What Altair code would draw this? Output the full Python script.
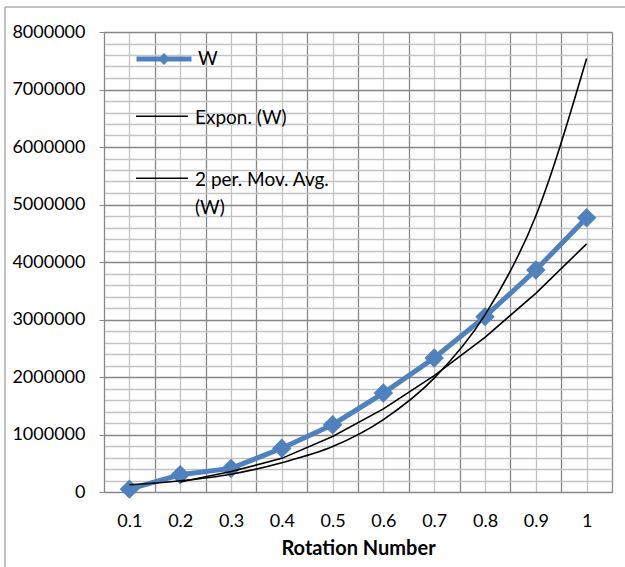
import altair as alt
import pandas as pd

# ---- data ----
categories = [0.1, 0.2, 0.3, 0.4, 0.5, 0.6, 0.7, 0.8, 0.9, 1.0]
w_values = [50000, 300000, 410000, 760000, 1170000, 1720000, 2330000, 3050000, 3860000, 4770000]
expon_values = [125000, 195000, 310000, 510000, 790000, 1260000, 1980000, 3080000, 4800000, 7540000]

x_grid_values = [0.05, 0.1, 0.15, 0.2, 0.25, 0.3, 0.35, 0.4, 0.45, 0.5, 0.55,
                 0.6, 0.65, 0.7, 0.75, 0.8, 0.85, 0.9, 0.95, 1.0, 1.05]
y_grid_values = [i * 200000 for i in range(41)]

W_NAME = "W"
EXP_NAME = "Expon. (W)"
MA_NAME = "2 per. Mov. Avg. (W)"

df = pd.DataFrame({"x": categories, "W": w_values, "E": expon_values})

FONT = "Lato"
BLUE = "#4f81bd"
MAJOR = "#878787"
MINOR = "#c3c3c3"

x_axis = alt.Axis(
    values=x_grid_values,
    title="Rotation Number",
    titleFont=FONT, titleFontSize=20, titleFontWeight="bold", titleColor="black",
    titlePadding=8,
    labelFont=FONT, labelFontSize=18, labelColor="black",
    labelExpr="round(datum.value*20) % 2 == 0 ? format(datum.value, '~g') : ''",
    labelOverlap=False, labelFlush=False, labelPadding=20,
    ticks=False, tickSize=0,
    domainColor=MAJOR,
    grid=True,
    gridColor={"condition": {"test": "round(datum.value*20) % 2 == 0", "value": MINOR}, "value": MAJOR},
    gridWidth=1.3,
)
y_axis = alt.Axis(
    values=y_grid_values,
    title=None,
    labelFont=FONT, labelFontSize=18, labelColor="black",
    labelExpr="datum.value % 1000000 == 0 ? format(datum.value, 'd') : ''",
    labelOverlap=False, labelFlush=False, labelPadding=14,
    tickSize=5, tickColor=MAJOR,
    tickOpacity={"condition": {"test": "datum.value % 1000000 == 0", "value": 1}, "value": 0},
    domainColor=MAJOR,
    grid=True,
    gridColor={"condition": {"test": "datum.value % 1000000 == 0", "value": MAJOR}, "value": MINOR},
    gridWidth=1.3,
)

x_scale = alt.Scale(domain=[0.05, 1.05], nice=False, zero=False)
y_scale = alt.Scale(domain=[0, 8000000], nice=False)

base = alt.Chart(df)

w_legend = alt.Legend(
    title=None, orient="none", legendX=30, legendY=-3, padding=0,
    symbolType="M-1,0L1,0M0,-0.09L0.09,0L0,0.09L-0.09,0Z",
    symbolSize=3025, symbolStrokeWidth=5,
    symbolFillColor=BLUE, symbolStrokeColor=BLUE, symbolOpacity=1,
    labelFont=FONT, labelFontSize=19, labelColor="black", labelOffset=4,
)
trend_legend = alt.Legend(
    title=None, orient="none", legendX=31, legendY=65, padding=0,
    symbolType="M-1,-0.3L1,-0.3", symbolSize=2704, symbolStrokeWidth=1.5, symbolOpacity=1,
    labelFont=FONT, labelFontSize=19, labelColor="black", labelOffset=6,
    labelLimit=0, rowPadding=31, labelBaseline="alphabetic",
    labelExpr="datum.label == '2 per. Mov. Avg. (W)' ? ['2 per. Mov. Avg.', '(W)'] : datum.label",
)

color_scale = alt.Scale(domain=[W_NAME], range=[BLUE])
stroke_scale = alt.Scale(domain=[EXP_NAME, MA_NAME], range=["black", "black"])

frame_left = alt.Chart(alt.Data(values=[{}])).mark_rule(stroke=MAJOR, strokeWidth=1).encode(
    x=alt.value(-99), y=alt.value(-25), y2=alt.value(700)
)
frame_top = alt.Chart(alt.Data(values=[{}])).mark_rule(stroke=MAJOR, strokeWidth=1).encode(
    x=alt.value(-99), x2=alt.value(700), y=alt.value(-25)
)

w_line = base.mark_line(color=BLUE, strokeWidth=5).encode(
    x=alt.X("x:Q", scale=x_scale, axis=x_axis),
    y=alt.Y("W:Q", scale=y_scale, axis=y_axis),
)

w_points = base.transform_calculate(series="'W'").mark_point(
    shape="diamond", filled=True, size=380, opacity=1
).encode(
    x=alt.X("x:Q", scale=x_scale, axis=x_axis),
    y=alt.Y("W:Q", scale=y_scale, axis=y_axis),
    color=alt.Color("series:N", scale=color_scale, legend=w_legend),
)

expon_line = base.transform_calculate(series="'Expon. (W)'").mark_line(
    strokeWidth=1.6, interpolate="monotone"
).encode(
    x=alt.X("x:Q", scale=x_scale, axis=x_axis),
    y=alt.Y("E:Q", scale=y_scale, axis=y_axis),
    stroke=alt.Stroke("series:N", scale=stroke_scale, legend=trend_legend),
)

ma_line = base.transform_window(
    ma="mean(W)", cnt="count()", frame=[-1, 0], sort=[alt.SortField("x")]
).transform_filter("datum.cnt == 2").transform_calculate(
    series="'2 per. Mov. Avg. (W)'"
).mark_line(strokeWidth=1.6).encode(
    x=alt.X("x:Q", scale=x_scale, axis=x_axis),
    y=alt.Y("ma:Q", scale=y_scale, axis=y_axis),
    stroke=alt.Stroke("series:N", scale=stroke_scale, legend=trend_legend),
)

chart = alt.layer(frame_left, frame_top, w_line, w_points, expon_line, ma_line).properties(
    width=508, height=460,
    autosize=alt.AutoSizeParams(type="none"),
    padding={"left": 104, "top": 32, "right": 13, "bottom": 75},
    background="white",
).configure_view(
    stroke=MAJOR, strokeWidth=1.3
).configure(
    font=FONT,
    style={"guide-label": {"lineHeight": 28}},
)

chart.save("out.html", embed_options={"renderer": "svg", "actions": False})
